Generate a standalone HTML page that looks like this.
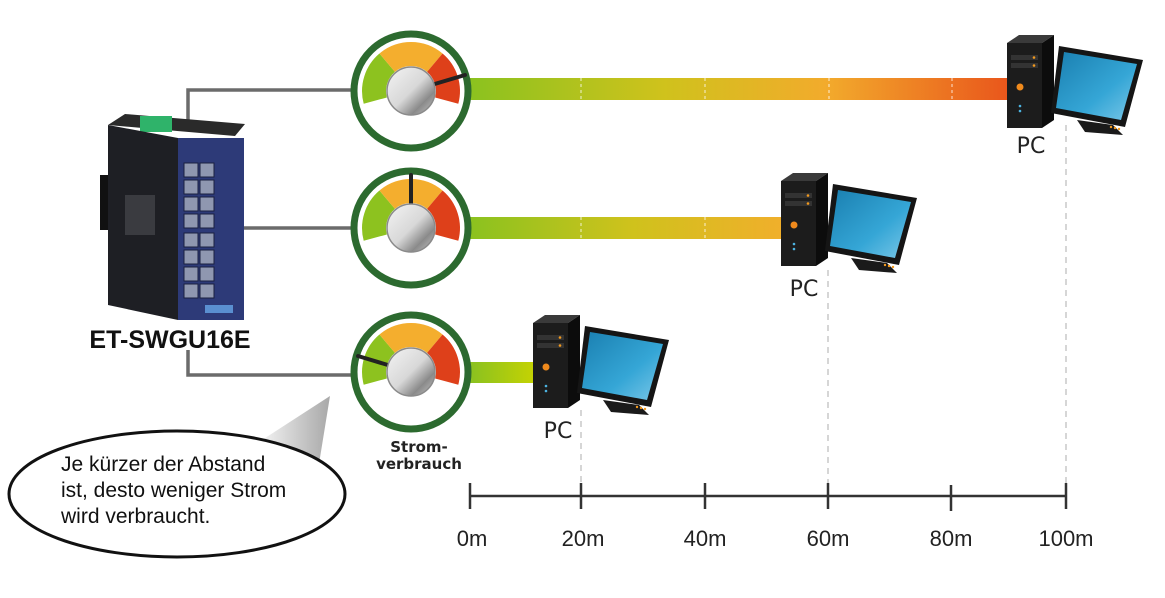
<!DOCTYPE html>
<html><head><meta charset="utf-8"><style>
html,body{margin:0;padding:0;background:#fff;}
svg{display:block;}
text{font-family:"Liberation Sans",sans-serif;}
</style></head><body>
<svg width="1165" height="598" viewBox="0 0 1165 598" xmlns="http://www.w3.org/2000/svg">
<defs>
<linearGradient id="b1" x1="473" x2="1015" y1="0" y2="0" gradientUnits="userSpaceOnUse">
<stop offset="0" stop-color="#8cc21f"/><stop offset="0.35" stop-color="#cfc21c"/><stop offset="0.65" stop-color="#f2ab2c"/><stop offset="1" stop-color="#e9531b"/></linearGradient>
<linearGradient id="b2" x1="473" x2="790" y1="0" y2="0" gradientUnits="userSpaceOnUse">
<stop offset="0" stop-color="#8cc21f"/><stop offset="0.5" stop-color="#cfc21c"/><stop offset="1" stop-color="#f2ae2c"/></linearGradient>
<linearGradient id="b3" x1="473" x2="540" y1="0" y2="0" gradientUnits="userSpaceOnUse">
<stop offset="0" stop-color="#8cc21f"/><stop offset="1" stop-color="#cad400"/></linearGradient>
<linearGradient id="knob" x1="0" y1="0" x2="1" y2="1">
<stop offset="0" stop-color="#f4f4f4"/><stop offset="0.5" stop-color="#d8d8d8"/><stop offset="0.75" stop-color="#8a8a8a"/><stop offset="1" stop-color="#c8c8c8"/></linearGradient>
<linearGradient id="scr" x1="0" y1="0" x2="1" y2="1">
<stop offset="0" stop-color="#1a7fb0"/><stop offset="0.6" stop-color="#35a6d6"/><stop offset="1" stop-color="#7cc8e8"/></linearGradient>
<linearGradient id="tail" x1="0" y1="0" x2="1" y2="0">
<stop offset="0" stop-color="#f2f2f2"/><stop offset="1" stop-color="#a8a8a8"/></linearGradient>
<g id="gauge">
<circle r="57" fill="#fff" stroke="#2c6a2f" stroke-width="7"/>
<path d="M -35.7 9.6 A 37 37 0 0 1 -23.8 -28.3" fill="none" stroke="#8dc21f" stroke-width="24"/>
<path d="M -23.8 -28.3 A 37 37 0 0 1 23.8 -28.3" fill="none" stroke="#f4ae2e" stroke-width="24"/>
<path d="M 23.8 -28.3 A 37 37 0 0 1 35.7 9.6" fill="none" stroke="#de401a" stroke-width="24"/>
</g>
<g id="pc">
<polygon points="0,8 12,0 47,0 35,8" fill="#3a3a3a"/>
<rect x="0" y="8" width="35" height="85" fill="#1c1c1c"/>
<polygon points="35,8 47,0 47,85 35,93" fill="#0c0c0c"/>
<rect x="4" y="20" width="27" height="5" fill="#333"/>
<rect x="4" y="28" width="27" height="5" fill="#333"/>
<circle cx="27" cy="22.5" r="1.3" fill="#f39a1e"/><circle cx="27" cy="30.5" r="1.3" fill="#f39a1e"/>
<circle cx="13" cy="52" r="3.5" fill="#f08a1c"/>
<circle cx="13" cy="71" r="1.3" fill="#4cb3e0"/><circle cx="13" cy="76" r="1.3" fill="#4cb3e0"/>
<polygon points="70,85 106,90 116,100 78,97" fill="#1a1a1a"/>
<polygon points="52,11 136,25 118,92 44,78" fill="#151515"/>
<polygon points="57,17 130,29 114,85 49,73" fill="url(#scr)"/>
<circle cx="104" cy="92" r="1.2" fill="#f39a1e"/><circle cx="108" cy="93" r="1.2" fill="#f39a1e"/><circle cx="112" cy="94" r="1.2" fill="#f39a1e"/>
</g>
</defs>

<g stroke="#6b6b6b" stroke-width="3.5" fill="none">
<polyline points="188,120 188,90 352,90"/>
<line x1="240" y1="228" x2="352" y2="228"/>
<polyline points="188,350 188,375 352,375"/>
</g>

<rect x="470" y="78" width="548" height="22" fill="url(#b1)"/>
<rect x="470" y="217" width="322" height="22" fill="url(#b2)"/>
<rect x="470" y="362" width="72" height="21" fill="url(#b3)"/>
<g stroke="#ffffff" stroke-width="1" stroke-dasharray="3,3" opacity="0.8">
<line x1="581" y1="78" x2="581" y2="100"/><line x1="705" y1="78" x2="705" y2="100"/>
<line x1="829" y1="78" x2="829" y2="100"/><line x1="952" y1="78" x2="952" y2="100"/>
<line x1="581" y1="217" x2="581" y2="239"/><line x1="705" y1="217" x2="705" y2="239"/>
</g>

<use href="#gauge" x="411" y="91"/>
<use href="#gauge" x="411" y="228"/>
<use href="#gauge" x="411" y="372"/>
<g stroke="#222" stroke-width="4" stroke-linecap="round">
<line x1="411" y1="91" x2="465" y2="75"/>
<line x1="411" y1="228" x2="411" y2="175"/>
<line x1="411" y1="372" x2="358" y2="356"/>
</g>
<g stroke="#8a8a8a" stroke-width="1.5" fill="url(#knob)">
<circle cx="411" cy="91" r="24"/>
<circle cx="411" cy="228" r="24"/>
<circle cx="411" cy="372" r="24"/>
</g>

<g stroke="#c8c8c8" stroke-width="1.5" stroke-dasharray="6,5">
<line x1="581" y1="410" x2="581" y2="486"/>
<line x1="828" y1="270" x2="828" y2="486"/>
<line x1="1066" y1="125" x2="1066" y2="486"/>
</g>

<use href="#pc" x="1007" y="35"/>
<use href="#pc" x="781" y="173"/>
<use href="#pc" x="533" y="315"/>
<text x="1031" y="153" font-size="22" fill="#222" text-anchor="middle" style="font-family:'DejaVu Sans',sans-serif">PC</text>
<text x="804" y="296" font-size="22" fill="#222" text-anchor="middle" style="font-family:'DejaVu Sans',sans-serif">PC</text>
<text x="558" y="438" font-size="22" fill="#222" text-anchor="middle" style="font-family:'DejaVu Sans',sans-serif">PC</text>

<polygon points="108,125 125,114 245,124 235,136" fill="#2a2a2a"/>
<rect x="140" y="116" width="32" height="16" fill="#2fb36a"/>
<polygon points="108,125 178,138 178,320 108,305" fill="#1e1f24"/>
<rect x="178" y="138" width="66" height="182" fill="#2d3a78"/>
<g fill="#8f97b0" stroke="#1b2040" stroke-width="1">
<rect x="184" y="163" width="14" height="14"/><rect x="200" y="163" width="14" height="14"/>
<rect x="184" y="180" width="14" height="14"/><rect x="200" y="180" width="14" height="14"/>
<rect x="184" y="197" width="14" height="14"/><rect x="200" y="197" width="14" height="14"/>
<rect x="184" y="214" width="14" height="14"/><rect x="200" y="214" width="14" height="14"/>
<rect x="184" y="233" width="14" height="14"/><rect x="200" y="233" width="14" height="14"/>
<rect x="184" y="250" width="14" height="14"/><rect x="200" y="250" width="14" height="14"/>
<rect x="184" y="267" width="14" height="14"/><rect x="200" y="267" width="14" height="14"/>
<rect x="184" y="284" width="14" height="14"/><rect x="200" y="284" width="14" height="14"/>
</g>
<rect x="205" y="305" width="28" height="8" fill="#5a8fd0"/>
<rect x="125" y="195" width="30" height="40" fill="#3a3b40"/>
<rect x="100" y="175" width="8" height="55" fill="#111"/>
<text x="170" y="348" font-size="25" font-weight="bold" fill="#111" text-anchor="middle">ET-SWGU16E</text>

<text x="419" y="452" font-size="15" font-weight="bold" fill="#222" text-anchor="middle" style="font-family:'DejaVu Sans',sans-serif">Strom-</text>
<text x="419" y="469" font-size="15" font-weight="bold" fill="#222" text-anchor="middle" style="font-family:'DejaVu Sans',sans-serif">verbrauch</text>

<polygon points="262,440 330,396 318,470" fill="url(#tail)"/>
<ellipse cx="177" cy="494" rx="168" ry="63" fill="#fff" stroke="#111" stroke-width="3"/>
<text font-size="21" fill="#111">
<tspan x="61" y="471">Je kürzer der Abstand</tspan>
<tspan x="61" y="497">ist, desto weniger Strom</tspan>
<tspan x="61" y="523">wird verbraucht.</tspan>
</text>

<g stroke="#333" stroke-width="2.5">
<line x1="470" y1="496" x2="1066" y2="496"/>
<line x1="470" y1="483" x2="470" y2="509"/>
<line x1="581" y1="483" x2="581" y2="509"/>
<line x1="705" y1="483" x2="705" y2="509"/>
<line x1="828" y1="483" x2="828" y2="509"/>
<line x1="951" y1="485" x2="951" y2="511"/>
<line x1="1066" y1="483" x2="1066" y2="509"/>
</g>
<g font-size="22" fill="#222" text-anchor="middle" style="font-family:'DejaVu Sans',sans-serif">
<text x="472" y="546">0m</text>
<text x="583" y="546">20m</text>
<text x="705" y="546">40m</text>
<text x="828" y="546">60m</text>
<text x="951" y="546">80m</text>
<text x="1066" y="546">100m</text>
</g>
</svg>
</body></html>
